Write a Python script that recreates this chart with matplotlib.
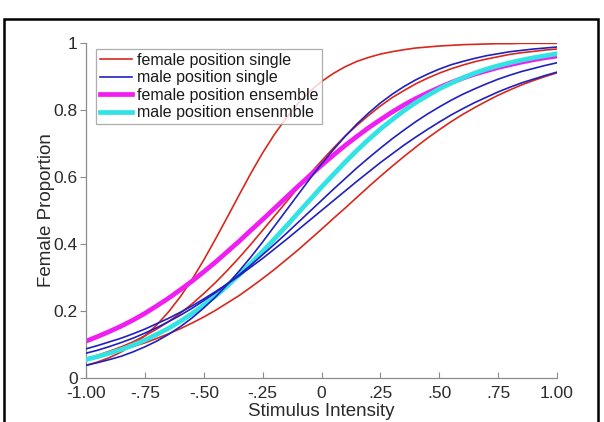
import matplotlib
matplotlib.use("Agg")
import matplotlib.pyplot as plt
from matplotlib.lines import Line2D
from matplotlib.patches import Rectangle

plt.rcParams['font.family'] = ['Liberation Sans', 'DejaVu Sans']

# Stimulus intensity grid (readings taken every 0.05)
stim = [-1.00, -0.95, -0.90, -0.85, -0.80, -0.75, -0.70, -0.65, -0.60, -0.55,
        -0.50, -0.45, -0.40, -0.35, -0.30, -0.25, -0.20, -0.15, -0.10, -0.05,
        0.00, 0.05, 0.10, 0.15, 0.20, 0.25, 0.30, 0.35, 0.40, 0.45,
        0.50, 0.55, 0.60, 0.65, 0.70, 0.75, 0.80, 0.85, 0.90, 0.95, 1.00]

# female position single (red)
red_a = [0.037, 0.048, 0.061, 0.078, 0.100, 0.126, 0.158, 0.197, 0.242, 0.294,
         0.352, 0.415, 0.480, 0.546, 0.611, 0.672, 0.727, 0.776, 0.819, 0.855,
         0.885, 0.909, 0.929, 0.945, 0.957, 0.967, 0.974, 0.980, 0.985, 0.988,
         0.991, 0.993, 0.995, 0.996, 0.997, 0.998, 0.998, 0.999, 0.999, 0.999, 0.999]
red_b = [0.058, 0.068, 0.080, 0.093, 0.108, 0.126, 0.146, 0.168, 0.193, 0.221,
         0.252, 0.285, 0.321, 0.359, 0.399, 0.441, 0.483, 0.525, 0.568, 0.609,
         0.648, 0.686, 0.722, 0.754, 0.784, 0.812, 0.837, 0.858, 0.878, 0.895,
         0.910, 0.923, 0.934, 0.944, 0.952, 0.959, 0.966, 0.971, 0.975, 0.979, 0.982]
red_c = [0.059, 0.066, 0.074, 0.084, 0.094, 0.105, 0.118, 0.132, 0.147, 0.164,
         0.182, 0.202, 0.224, 0.246, 0.271, 0.297, 0.324, 0.353, 0.382, 0.413,
         0.444, 0.476, 0.507, 0.539, 0.571, 0.602, 0.632, 0.661, 0.689, 0.716,
         0.741, 0.765, 0.787, 0.807, 0.826, 0.844, 0.860, 0.875, 0.888, 0.900, 0.911]

# male position single (blue)
blue_a = [0.038, 0.046, 0.055, 0.065, 0.078, 0.093, 0.110, 0.130, 0.153, 0.179,
          0.209, 0.242, 0.279, 0.319, 0.361, 0.406, 0.453, 0.500, 0.547, 0.594,
          0.639, 0.681, 0.721, 0.758, 0.791, 0.821, 0.847, 0.870, 0.890, 0.907,
          0.922, 0.935, 0.945, 0.954, 0.962, 0.968, 0.974, 0.978, 0.982, 0.985, 0.988]
blue_b = [0.074, 0.083, 0.094, 0.106, 0.119, 0.134, 0.150, 0.168, 0.187, 0.208,
          0.231, 0.255, 0.281, 0.308, 0.337, 0.368, 0.399, 0.431, 0.464, 0.497,
          0.530, 0.563, 0.595, 0.627, 0.657, 0.686, 0.714, 0.740, 0.765, 0.788,
          0.809, 0.829, 0.847, 0.863, 0.878, 0.892, 0.904, 0.915, 0.924, 0.933, 0.941]
blue_c = [0.087, 0.097, 0.108, 0.119, 0.132, 0.146, 0.162, 0.178, 0.196, 0.215,
          0.236, 0.258, 0.281, 0.305, 0.331, 0.357, 0.385, 0.413, 0.442, 0.471,
          0.500, 0.529, 0.558, 0.587, 0.615, 0.643, 0.669, 0.695, 0.719, 0.742,
          0.764, 0.785, 0.804, 0.822, 0.838, 0.854, 0.868, 0.881, 0.892, 0.903, 0.913]

# female position ensemble (magenta)
magenta = [0.110, 0.124, 0.139, 0.155, 0.173, 0.193, 0.215, 0.238, 0.263, 0.289,
           0.317, 0.346, 0.377, 0.408, 0.441, 0.473, 0.506, 0.539, 0.572, 0.604,
           0.635, 0.665, 0.694, 0.721, 0.747, 0.771, 0.794, 0.815, 0.834, 0.851,
           0.867, 0.882, 0.895, 0.907, 0.917, 0.927, 0.935, 0.943, 0.950, 0.956, 0.961]
# male position ensenmble (cyan)
cyan = [0.055, 0.064, 0.074, 0.085, 0.098, 0.113, 0.130, 0.148, 0.169, 0.192,
        0.218, 0.245, 0.275, 0.308, 0.342, 0.378, 0.415, 0.453, 0.492, 0.531,
        0.570, 0.607, 0.644, 0.679, 0.712, 0.743, 0.771, 0.798, 0.822, 0.843,
        0.863, 0.880, 0.896, 0.910, 0.922, 0.932, 0.941, 0.949, 0.956, 0.962, 0.968]

x_ticks = [-1.0, -0.75, -0.5, -0.25, 0.0, 0.25, 0.5, 0.75, 1.0]
x_ticklabels = ['-1.00', '-.75', '-.50', '-.25', '0', '.25', '.50', '.75', '1.00']
y_ticks = [0, 0.2, 0.4, 0.6, 0.8, 1.0]
y_ticklabels = ['0', '0.2', '0.4', '0.6', '0.8', '1']
legend_labels = ['female position single', 'male position single',
                 'female position ensemble', 'male position ensenmble']

RED = '#d8281e'
BLUE = '#2020c0'
MAG = '#f01ef0'
CYAN = '#33e3e3'

W, H = 604, 422
fig = plt.figure(figsize=(W / 100, H / 100), dpi=100)
ax = fig.add_axes([86 / W, 1 - 378 / H, 471 / W, 335 / H])

thin = 1.2
thick = 3.4
for ys in (red_a, red_b, red_c):
    ax.plot(stim, ys, color=RED, lw=thin, zorder=2, solid_capstyle='round')
ax.plot(stim, magenta, color=MAG, lw=thick, zorder=2.5, solid_capstyle='round')
ax.plot(stim, cyan, color=CYAN, lw=thick, zorder=2.6, solid_capstyle='round')
for ys in (blue_a, blue_b, blue_c):
    ax.plot(stim, ys, color=BLUE, lw=thin, zorder=3, solid_capstyle='round')

ax.set_xlim(-1, 1)
ax.set_ylim(0, 1)
for s in ('top', 'right'):
    ax.spines[s].set_visible(False)
for s in ('left', 'bottom'):
    ax.spines[s].set_color('#8c8c8c')
    ax.spines[s].set_linewidth(0.9)

ax.set_xticks(x_ticks)
ax.set_xticklabels(x_ticklabels)
ax.set_yticks(y_ticks)
ax.set_yticklabels(y_ticklabels)
ax.tick_params(axis='x', direction='in', length=4, width=0.8, color='#8c8c8c',
               labelsize=12.5, labelcolor='#2a2a2a', pad=6)
ax.tick_params(axis='y', direction='out', length=4, width=0.8, color='#8c8c8c',
               labelsize=12.5, labelcolor='#2a2a2a', pad=2)

ax.set_xlabel('Stimulus Intensity', fontsize=13.5, color='#2a2a2a', labelpad=1)
ax.set_ylabel('Female Proportion', fontsize=13.5, color='#2a2a2a', labelpad=-1)

handles = [Line2D([], [], color=RED, lw=thin),
           Line2D([], [], color=BLUE, lw=thin),
           Line2D([], [], color=MAG, lw=thick),
           Line2D([], [], color=CYAN, lw=thick)]
leg = ax.legend(handles, legend_labels, loc='upper left',
                bbox_to_anchor=((96 - 86) / 471, (378 - 49) / 335),
                borderaxespad=0, fontsize=11.5, frameon=True, fancybox=False,
                handlelength=2.0, handletextpad=0.3, labelspacing=0.15,
                borderpad=0.25)
leg.get_frame().set_edgecolor('#9a9a9a')
leg.get_frame().set_linewidth(0.9)
leg.set_zorder(5)
for t in leg.get_texts():
    t.set_color('#1a1a1a')

# outer black frame of the figure panel
fig.patches.append(Rectangle((4 / W, -0.05), (598 - 4) / W, 1 - 19 / H + 0.05,
                             transform=fig.transFigure, fill=False,
                             edgecolor='black', linewidth=1.8))

fig.savefig('out.png', dpi=100)
